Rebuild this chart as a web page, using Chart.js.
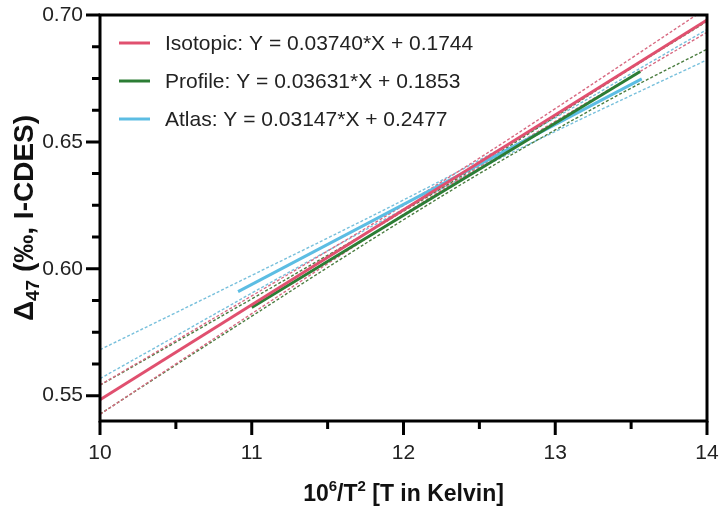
<!DOCTYPE html>
<html lang="en">
<head>
  <meta charset="UTF-8">
  <title>Clumped isotope calibration</title>
  <script src="https://cdn.jsdelivr.net/npm/chart.js"></script>
  <style>
    body {
      margin: 0;
      background: #fff;
    }

    .wrap {
      width: 721px;
      height: 510px;
    }
  </style>
</head>
<body>
  <div class="wrap"><canvas id="calib"></canvas></div>

  <script>
    // axis ticks
    const xTicks = [10, 11, 12, 13, 14];
    const xMinor = [10.5, 11.5, 12.5, 13.5];
    const yTicks = [0.55, 0.60, 0.65, 0.70];
    const yMinor = [0.5625, 0.575, 0.5875, 0.6125, 0.625, 0.6375, 0.6625, 0.675, 0.6875];

    // fitted lines
    const isoFitX = [10, 14];
    const isoFitY = [0.5484, 0.6980];
    const profFitX = [11.0, 13.56];
    const profFitY = [0.5847, 0.6777];
    const atlasFitX = [10.91, 13.57];
    const atlasFitY = [0.5910, 0.6748];

    // confidence bands
    const bandX = [10, 10.5, 11, 11.5, 12, 12.5, 13, 13.5, 14];
    const isoUpper = [0.5542, 0.5717, 0.5893, 0.6070, 0.6250, 0.6436, 0.6631, 0.6829, 0.7028];
    const isoLower = [0.5426, 0.5625, 0.5823, 0.6020, 0.6214, 0.6402, 0.6581, 0.6757, 0.6932];
    const profUpper = [0.5541, 0.5711, 0.5881, 0.6053, 0.6227, 0.6409, 0.6599, 0.6790, 0.6975];
    const profLower = [0.5427, 0.5621, 0.5813, 0.6005, 0.6193, 0.6375, 0.6547, 0.6712, 0.6865];
    const atlasUpper = [0.5681, 0.5827, 0.5974, 0.6121, 0.6271, 0.6428, 0.6595, 0.6769, 0.6943];
    const atlasLower = [0.5567, 0.5735, 0.5904, 0.6071, 0.6235, 0.6394, 0.6541, 0.6683, 0.6823];

    const labels = [
      'Isotopic: Y = 0.03740*X + 0.1744',
      'Profile: Y = 0.03631*X + 0.1853',
      'Atlas: Y = 0.03147*X + 0.2477'
    ];
    const colors = ['#e0506f', '#2c7d35', '#5cbde3'];
    const bandColors = ['#d86a82', '#4b7d40', '#78c0dc'];

    const FONT = '"Liberation Sans", Arial, sans-serif';

    const pts = (xs, ys) => xs.map((x, i) => ({ x: x, y: ys[i] }));

    function fitLine(xs, ys, i) {
      return {
        label: labels[i],
        data: pts(xs, ys),
        borderColor: colors[i],
        borderWidth: 3,
        pointRadius: 0,
        showLine: true,
        legendItem: true
      };
    }

    function band(ys, i) {
      return {
        label: '',
        data: pts(bandX, ys),
        borderColor: bandColors[i],
        borderWidth: 1.4,
        borderDash: [3, 2],
        pointRadius: 0,
        showLine: true,
        tension: 0.4
      };
    }

    // plot frame, ticks, titles and legend drawn by hand (Prism style)
    const decor = {
      id: 'decor',
      afterDraw(chart) {
        const { ctx, chartArea: a, scales: { x, y } } = chart;
        ctx.save();
        ctx.strokeStyle = '#000';
        ctx.lineWidth = 3;
        ctx.strokeRect(a.left, a.top, a.right - a.left, a.bottom - a.top);

        ctx.beginPath();
        xTicks.forEach(v => { const p = x.getPixelForValue(v); ctx.moveTo(p, a.bottom); ctx.lineTo(p, a.bottom + 14); });
        xMinor.forEach(v => { const p = x.getPixelForValue(v); ctx.moveTo(p, a.bottom); ctx.lineTo(p, a.bottom + 8); });
        yTicks.forEach(v => { const p = y.getPixelForValue(v); ctx.moveTo(a.left, p); ctx.lineTo(a.left - 14, p); });
        yMinor.forEach(v => { const p = y.getPixelForValue(v); ctx.moveTo(a.left, p); ctx.lineTo(a.left - 8, p); });
        ctx.stroke();

        // x title with superscripts
        ctx.fillStyle = '#111';
        ctx.textBaseline = 'alphabetic';
        const big = 'bold 23px ' + FONT;
        const small = 'bold 15px ' + FONT;
        const xParts = [['10', big, 0], ['6', small, -10], ['/T', big, 0], ['2', small, -10], [' [T in Kelvin]', big, 0]];
        let w = 0;
        xParts.forEach(p => { ctx.font = p[1]; w += ctx.measureText(p[0]).width; });
        let cx = (a.left + a.right) / 2 - w / 2;
        const by = 501;
        xParts.forEach(p => { ctx.font = p[1]; ctx.fillText(p[0], cx, by + p[2]); cx += ctx.measureText(p[0]).width; });

        // y title with subscript
        const yBig = 'bold 28px ' + FONT;
        const ySmall = 'bold 19px ' + FONT;
        const yParts = [['\u0394', yBig, 0], ['47', ySmall, 6], [' (\u2030, I-CDES)', yBig, 0]];
        w = 0;
        yParts.forEach(p => { ctx.font = p[1]; w += ctx.measureText(p[0]).width; });
        ctx.translate(24, (a.top + a.bottom) / 2);
        ctx.rotate(-Math.PI / 2);
        cx = -w / 2;
        yParts.forEach(p => { ctx.font = p[1]; ctx.fillText(p[0], cx, 9 + p[2]); cx += ctx.measureText(p[0]).width; });
        ctx.restore();

        // legend
        ctx.save();
        ctx.font = '21px ' + FONT;
        ctx.textBaseline = 'middle';
        ctx.fillStyle = '#222';
        let row = 0;
        chart.data.datasets.forEach(ds => {
          if (!ds.legendItem) return;
          const ly = a.top + 28 + row * 38;
          ctx.strokeStyle = ds.borderColor;
          ctx.lineWidth = 3;
          ctx.beginPath();
          ctx.moveTo(a.left + 19, ly);
          ctx.lineTo(a.left + 50, ly);
          ctx.stroke();
          ctx.fillText(ds.label, a.left + 65, ly + 1);
          row++;
        });
        ctx.restore();
      }
    };

    const ctx = document.getElementById('calib').getContext('2d');
    new Chart(ctx, {
      type: 'scatter',
      data: {
        datasets: [
          fitLine(isoFitX, isoFitY, 0),
          fitLine(profFitX, profFitY, 1),
          fitLine(atlasFitX, atlasFitY, 2),
          band(isoUpper, 0),
          band(isoLower, 0),
          band(profUpper, 1),
          band(profLower, 1),
          band(atlasUpper, 2),
          band(atlasLower, 2)
        ]
      },
      options: {
        responsive: true,
        maintainAspectRatio: false,
        animation: false,
        layout: { padding: { top: 15, right: 14, left: 0, bottom: 0 } },
        plugins: {
          legend: { display: false },
          tooltip: { enabled: false }
        },
        scales: {
          x: {
            type: 'linear',
            min: 10,
            max: 14,
            afterBuildTicks: s => { s.ticks = xTicks.map(v => ({ value: v })); },
            afterFit: s => { s.height = 89; s.paddingLeft = 0; s.paddingRight = 0; },
            grid: { display: false, drawTicks: false },
            border: { display: false },
            ticks: {
              padding: 20,
              color: '#222',
              font: { family: FONT, size: 21 },
              callback: v => String(v)
            }
          },
          y: {
            type: 'linear',
            min: 0.54,
            max: 0.70,
            afterBuildTicks: s => { s.ticks = yTicks.map(v => ({ value: v })); },
            afterFit: s => { s.width = 100; s.paddingTop = 0; s.paddingBottom = 0; },
            grid: { display: false, drawTicks: false },
            border: { display: false },
            ticks: {
              padding: 17,
              color: '#222',
              font: { family: FONT, size: 21 },
              callback: v => v.toFixed(2)
            }
          }
        }
      },
      plugins: [decor]
    });
  </script>
</body>
</html>
